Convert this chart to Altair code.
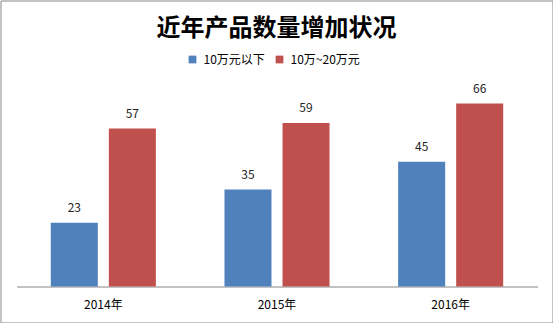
import altair as alt
import pandas as pd

years = ["2014年", "2015年", "2016年"]
series = ["10万元以下", "10万~20万元"]
low = [23, 35, 45]
mid = [57, 59, 66]
colors = ["#4F81BD", "#C0504D"]

rows = []
for i, y in enumerate(years):
    rows.append({"year": y, "series": series[0], "value": low[i]})
    rows.append({"year": y, "series": series[1], "value": mid[i]})
df = pd.DataFrame(rows)

FONT = "Noto Sans CJK SC"

x = alt.X("year:N", sort=years, title=None,
          scale=alt.Scale(range=[16, 537], paddingInner=0.395, paddingOuter=0.1975),
          axis=alt.Axis(labelAngle=0, ticks=False, domainColor="#868686", domainWidth=1,
                        labelFont=FONT, labelFontSize=12, labelColor="#000000",
                        labelPadding=13, offset=-36, grid=False))
y = alt.Y("value:Q", axis=None,
          scale=alt.Scale(domain=[0, 70], range=[286, 92], nice=False, zero=True))
xo = alt.XOffset("series:N", sort=series, scale=alt.Scale(paddingInner=0.19, paddingOuter=0))

base = alt.Chart(df).encode(x=x, y=y, xOffset=xo)

bars = base.mark_bar().encode(
    color=alt.Color("series:N", sort=series,
                    scale=alt.Scale(domain=series, range=colors),
                    legend=alt.Legend(title=None, orient="none", legendX=186, legendY=53,
                                      direction="horizontal", symbolType="square",
                                      symbolSize=60, symbolStrokeWidth=0,
                                      labelFont=FONT, labelFontSize=12,
                                      labelColor="#000000", columnPadding=8,
                                      symbolOffset=0, labelOffset=5))
)

labels = base.mark_text(baseline="bottom", dy=-8, font=FONT, fontSize=12,
                        color="#262626").encode(text="value:Q")

chart = alt.layer(bars, labels).properties(
    width=552, height=322,
    background="white",
    title=alt.TitleParams("近年产品数量增加状况", font=FONT, fontSize=24,
                          fontWeight="bold", color="#000000", anchor="middle",
                          baseline="top", offset=-40),
    autosize=alt.AutoSizeParams(type="none"),
    padding={"left": 0.5, "top": 0.5, "right": 0.5, "bottom": 0.5},
).configure_view(stroke="#868686", strokeWidth=1)

chart.save("out.html", embed_options={"renderer": "svg", "actions": False})
